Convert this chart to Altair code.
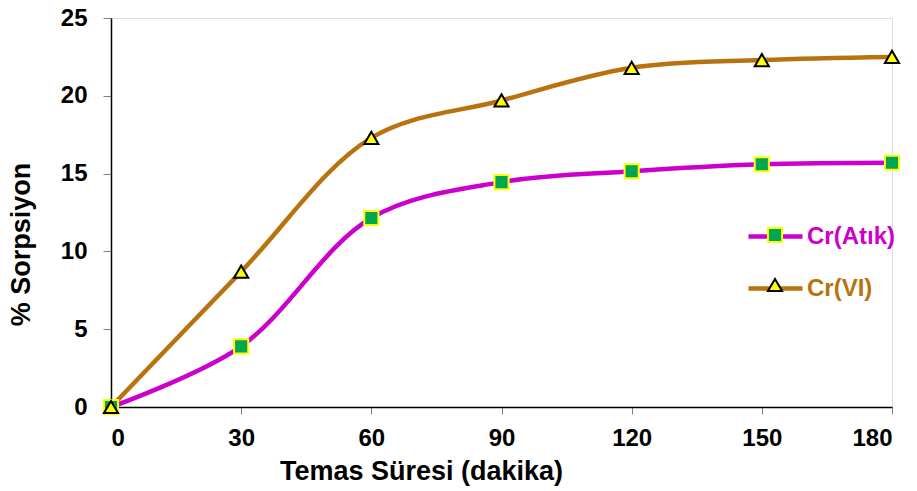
import altair as alt
import pandas as pd

times = [0, 30, 60, 90, 120, 150, 180]
cr_atik = [0, 3.9, 12.15, 14.45, 15.15, 15.6, 15.7]
cr_vi = [0, 8.7, 17.3, 19.7, 21.8, 22.3, 22.5]
series_names = ["Cr(Atık)", "Cr(VI)"]

rows = []
for t, a, v in zip(times, cr_atik, cr_vi):
    rows.append({"t": t, "val": a, "series": series_names[0], "line_series": series_names[0]})
    rows.append({"t": t, "val": v, "series": series_names[1], "line_series": series_names[1]})
df = pd.DataFrame(rows)

FONT = "Liberation Sans"
MAG = "#CC00CC"
BRN = "#B8730F"
GRN = "#00A651"
YEL = "#FFFF00"

x = alt.X("t:Q", scale=alt.Scale(domain=[0, 180], nice=False),
          axis=alt.Axis(values=times, title="Temas Süresi (dakika)", grid=False,
                        labelFontSize=24, labelFontWeight="bold", labelFont=FONT,
                        labelColor="black", labelPadding=12,
                        titleFontSize=27, titleFontWeight="bold", titleFont=FONT,
                        titleColor="black", titlePadding=8, titleX=310,
                        titleAlign="center", titleAnchor="start",
                        tickSize=7, tickColor="#808080", domainColor="black",
                        domainWidth=1.5))
y = alt.Y("val:Q", scale=alt.Scale(domain=[0, 25], nice=False),
          axis=alt.Axis(values=[0, 5, 10, 15, 20, 25], title="% Sorpsiyon", grid=False,
                        labelFontSize=24, labelFontWeight="bold", labelFont=FONT,
                        labelColor="black", labelPadding=16,
                        titleFontSize=27, titleFontWeight="bold", titleFont=FONT,
                        titleColor="black", titlePadding=25, titleY=226,
                        titleAlign="center", titleAnchor="start",
                        tickSize=8, tickColor="#808080", domainColor="black",
                        domainWidth=1.5))

is_first = f"datum.label == '{series_names[0]}'"
label_color = {"expr": f"{is_first} ? '{MAG}' : '{BRN}'"}
sym_fill = {"expr": f"{is_first} ? '{GRN}' : '{YEL}'"}
sym_type = {"expr": f"{is_first} ? 'square' : 'triangle-up'"}

lines = alt.Chart(df).mark_line(interpolate="catmull-rom", strokeWidth=4.5).encode(
    x=x, y=y,
    stroke=alt.Stroke("line_series:N", scale=alt.Scale(range=[MAG, BRN]),
                      sort="ascending",
                      legend=alt.Legend(title=None, orient="none", legendX=635, legendY=189,
                                        symbolType="stroke", symbolSize=2916,
                                        symbolStrokeWidth=4.5, rowPadding=10,
                                        labelFontSize=24, labelFontWeight="bold",
                                        labelFont=FONT, labelColor=label_color,
                                        labelOffset=2)),
)

pt_legend = alt.Legend(title=None, orient="none", legendX=652, legendY=205,
                       labelOpacity=0, labelFontSize=24, labelFontWeight="bold",
                       labelFont=FONT, rowPadding=26,
                       symbolType=sym_type, symbolFillColor=sym_fill,
                       symbolStrokeWidth=2, symbolSize=200, symbolOpacity=1)

points = alt.Chart(df).mark_point(filled=True, opacity=1, strokeWidth=2, size=200).encode(
    x=x, y=y,
    shape=alt.Shape("series:N", scale=alt.Scale(domain=series_names, range=["square", "triangle-up"]),
                    legend=None),
    fill=alt.Fill("series:N", scale=alt.Scale(domain=series_names, range=[GRN, YEL]),
                  legend=None),
    stroke=alt.Stroke("series:N", scale=alt.Scale(domain=series_names, range=[YEL, "black"]),
                      legend=pt_legend),
)

chart = alt.layer(lines, points).resolve_scale(stroke="independent").properties(
    width=781, height=389, autosize="none",
    padding={"left": 111, "top": 18, "right": 25, "bottom": 84},
).configure_view(stroke=None).configure(background="white")

chart.save("out.html", embed_options={"renderer": "svg", "actions": False})
